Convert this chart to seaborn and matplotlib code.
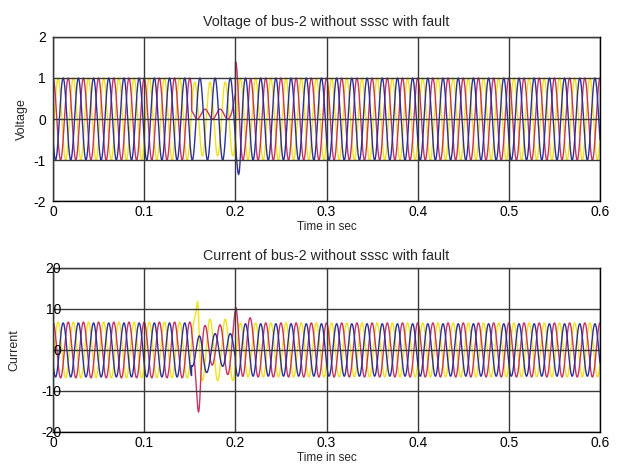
import numpy as np
import pandas as pd
import matplotlib
matplotlib.use("Agg")
import matplotlib.pyplot as plt
import seaborn as sns

# ---- values ----
FREQ_HZ = 60                      # ~6 cycles per 0.1 s
PHASES = ["Phase A", "Phase B", "Phase C"]
PHASE_COLORS = ["#f0e21a", "#c83462", "#2c309a"]   # yellow, red, blue
PHASE_SHIFT_DEG = [-120, 0, 120]
SEG_EDGES = [0.0, 0.152, 0.20, 0.60]   # pre-fault, fault, post-fault

# voltage amplitude per segment (pu)
v_amp_a = [1.0, 0.90, 1.0]
v_amp_b = [1.0, 0.12, 1.0]
v_amp_c = [1.0, 1.00, 1.0]
v_offset_b_fault = 0.12
# transient spikes: (phase index, time, height, width)
v_spikes = [(1, 0.2010, 0.42, 0.0022), (2, 0.2045, -0.45, 0.0018), (1, 0.2135, -0.25, 0.0015)]

# current amplitude per segment (A)
i_amp_a = [6.8, 7.5, 6.6]
i_amp_b = [6.8, 6.0, 6.6]
i_amp_c = [6.6, 4.0, 6.4]
i_spikes = [(1, 0.1600, -10.0, 0.0020), (0, 0.1590, 9.0, 0.0014),
            (1, 0.2010, 4.0, 0.0022), (1, 0.2140, 2.0, 0.0025),
            (1, 0.1760, 2.5, 0.0030), (2, 0.1660, -2.5, 0.0030)]

X_TICKS = [0, 0.1, 0.2, 0.3, 0.4, 0.5, 0.6]
X_TICK_LABELS = ["0", "0.1", "0.2", "0.3", "0.4", "0.5", "0.6"]
V_TICKS = [-2, -1, 0, 1, 2]
I_TICKS = [-20, -10, 0, 10, 20]

TITLE_V = "Voltage of bus-2 without sssc with fault"
TITLE_I = "Current of bus-2 without sssc with fault"
XLABEL = "Time in sec"

t = np.linspace(0, 0.6, 7201)


def build(amps, spikes, offset_b=None):
    rows = []
    for k, name in enumerate(PHASES):
        amp = np.select([t < SEG_EDGES[1], t < SEG_EDGES[2], t >= SEG_EDGES[2]], amps[k])
        y = amp * np.cos(2 * np.pi * FREQ_HZ * t + np.deg2rad(PHASE_SHIFT_DEG[k]))
        if offset_b is not None and k == 1:
            y = y + np.where((t >= SEG_EDGES[1]) & (t < SEG_EDGES[2]), offset_b, 0.0)
        for (p, t0, h, w) in spikes:
            if p == k:
                y = y + h * np.exp(-0.5 * ((t - t0) / w) ** 2)
        rows.append(pd.DataFrame({"t": t, "y": y, "phase": name}))
    return pd.concat(rows, ignore_index=True)


df_v = build([v_amp_a, v_amp_b, v_amp_c], v_spikes, v_offset_b_fault)
df_i = build([i_amp_a, i_amp_b, i_amp_c], i_spikes)

sns.set_style("white")
plt.rcParams["font.family"] = ["Liberation Sans", "DejaVu Sans"]

fig = plt.figure(figsize=(6.35, 4.7), dpi=100)
ax1 = fig.add_axes([0.0835, 0.5723, 0.8614, 0.349])
ax2 = fig.add_axes([0.0835, 0.0809, 0.8614, 0.349])

palette = dict(zip(PHASES, PHASE_COLORS))
for ax, df, ticks, title, ylabel, lim, tpad, ylx in [
    (ax1, df_v, V_TICKS, TITLE_V, "Voltage", (-2, 2), 8, -0.045),
    (ax2, df_i, I_TICKS, TITLE_I, "Current", (-20, 20), 6, -0.060),
]:
    sns.lineplot(data=df, x="t", y="y", hue="phase", palette=palette,
                 estimator=None, sort=False, linewidth=1.0, legend=False, ax=ax)
    ax.set_xlim(0, 0.6)
    ax.set_ylim(*lim)
    ax.set_xticks(X_TICKS)
    ax.set_xticklabels(X_TICK_LABELS)
    ax.set_yticks(ticks)
    ax.set_yticklabels([str(v) for v in ticks])
    ax.grid(True, color="#383838", linewidth=1.0, linestyle="-")
    ax.set_axisbelow(False)
    for s in ax.spines.values():
        s.set_color("black")
        s.set_linewidth(1.0)
        s.set_visible(True)
    ax.tick_params(axis="both", labelsize=10, length=0, colors="black")
    ax.tick_params(axis="x", pad=3)
    ax.set_title(title, fontsize=10.3, pad=tpad)
    ax.set_xlabel(XLABEL, fontsize=8.5, labelpad=1)
    ax.set_ylabel(ylabel, fontsize=9)
    ax.yaxis.set_label_coords(ylx, 0.5)

ax1.tick_params(axis="y", pad=5)
ax2.tick_params(axis="y", pad=-6)

fig.savefig("out.png", dpi=100, facecolor="white")
